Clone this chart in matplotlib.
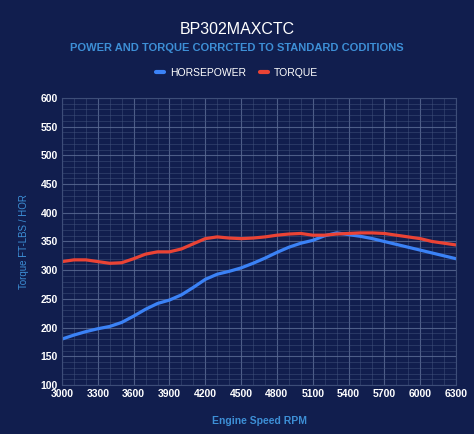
import matplotlib

matplotlib.use('Agg')
from matplotlib import pyplot as plt
from matplotlib.ticker import MultipleLocator

# engine speed and readings
rpm = [3000, 3100, 3200, 3300, 3400, 3500, 3600, 3700, 3800, 3900, 4000,
       4100, 4200, 4300, 4400, 4500, 4600, 4700, 4800, 4900, 5000, 5100,
       5200, 5300, 5400, 5500, 5600, 5700, 5800, 5900, 6000, 6100, 6200, 6300]
horsepower = [180, 187, 193, 198, 202, 209, 220, 232, 242, 248, 257,
              270, 284, 293, 298, 304, 312, 321, 331, 340, 347, 352,
              360, 365, 362, 359, 355, 350, 345, 340, 335, 330, 325, 320]
torque = [315, 318, 318, 315, 312, 313, 320, 328, 332, 332, 337,
          346, 355, 358, 356, 355, 356, 358, 361, 363, 364, 361,
          361, 363, 364, 365, 365, 364, 361, 358, 355, 350, 347, 344]

BG = '#111e4e'
SUB = '#3d8fd6'

plt.rcParams['font.family'] = ['Liberation Sans', 'DejaVu Sans']

fig = plt.figure(figsize=(4.74, 4.34), dpi=100, facecolor=BG)
ax = fig.add_axes([62 / 474, 1 - 385 / 434, 394 / 474, 287 / 434])
ax.set_facecolor(BG)

ax.plot(rpm, horsepower, color='#3b82f6', lw=2.3, solid_capstyle='round', label='HORSEPOWER')
ax.plot(rpm, torque, color='#ea4335', lw=2.3, solid_capstyle='round', label='TORQUE')

ax.set_xlim(3000, 6300)
ax.set_ylim(100, 600)
ax.xaxis.set_major_locator(MultipleLocator(300))
ax.xaxis.set_minor_locator(MultipleLocator(100))
ax.yaxis.set_major_locator(MultipleLocator(50))
ax.yaxis.set_minor_locator(MultipleLocator(10))
ax.grid(which='major', color='#5d6d96', lw=0.8, alpha=0.8)
ax.grid(which='minor', color='#44557f', lw=0.6, alpha=0.55)
ax.set_axisbelow(True)
for s in ax.spines.values():
    s.set_color('#3d4d78')
ax.tick_params(which='both', length=0, colors='white', labelsize=7.5, pad=3)
for lbl in ax.get_xticklabels() + ax.get_yticklabels():
    lbl.set_fontweight('bold')

ax.set_ylabel('Torque FT-LBS / HOR', color=SUB, fontsize=7, labelpad=8)
ax.set_xlabel('Engine Speed RPM', color=SUB, fontsize=7.5, fontweight='bold', labelpad=12)

fig.text(0.5, 1 - 29 / 434, 'BP302MAXCTC', color='white', fontsize=11.5, ha='center', va='center')
fig.text(0.5, 1 - 48 / 434, 'POWER AND TORQUE CORRCTED TO STANDARD CODITIONS',
         color=SUB, fontsize=8, fontweight='bold', ha='center', va='center')

leg = fig.legend(loc='center', bbox_to_anchor=(0.5, 1 - 73 / 434), ncol=2, frameon=False,
                 fontsize=7.5, handlelength=0.8, handletextpad=0.6, columnspacing=1.3)
for t in leg.get_texts():
    t.set_color('white')
for h in leg.legend_handles:
    h.set_linewidth(3)

fig.savefig('out.png', facecolor=BG)
